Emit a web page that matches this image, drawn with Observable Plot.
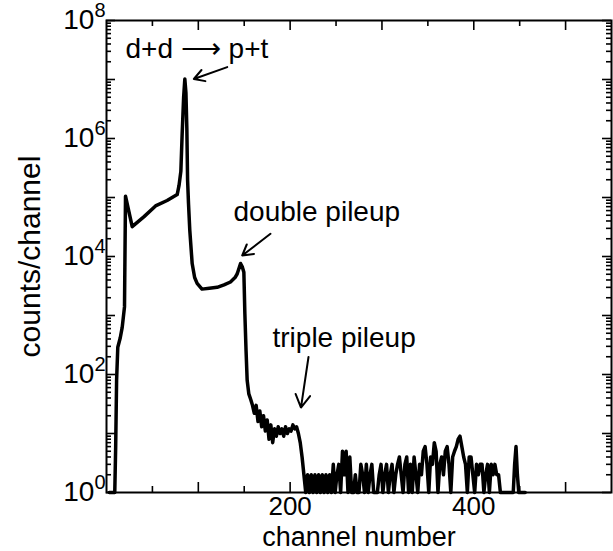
<!DOCTYPE html>
<html><head><meta charset="utf-8">
<script src="https://cdn.jsdelivr.net/npm/d3@7"></script>
<script src="https://cdn.jsdelivr.net/npm/@observablehq/plot@0.6"></script>
<style>body{margin:0;background:#fff;} svg{display:block}</style>
</head><body><div id="chart"></div>
<script>
// Peak region (channel, counts/channel)
const peakChannels = [3, 9, 10, 11, 12.3, 15, 17.1, 19.6, 20.7, 28, 40.6, 53.4, 66, 77, 79, 81, 82.4, 84, 85.3, 86.5, 87.5, 88.3, 89.3, 90.7, 93.3, 96, 98.7, 104, 112, 120.5, 128, 135, 140, 142.4, 146, 148, 149.6, 150.7, 152, 153.2];
const peakCounts = [1, 1, 6, 80, 290, 420, 630, 1400, 105000, 32000, 47000, 72000, 89000, 112000, 160000, 280000, 1200000, 5000000, 10200000, 6000000, 1500000, 200000, 80000, 28000, 7600, 4400, 3500, 2800, 2900, 3000, 3300, 3700, 4400, 5100, 7600, 6600, 5400, 1070, 250, 80];
// Triple pileup shoulder, channels 155..217 step 2
const tripleChannels = d3.range(155, 218, 2);
const tripleCounts = [47,38,30,22,30,16,24,13,20,11,17,8,14,7,12,9,13,10,12,9,13,10,12,11,14,12,13,10,7,4,2,1];
// Noise tail, channels 219..431 step 2
const tailChannels = d3.range(219, 432, 2);
const tailCounts = [2,1,2,1,2,1,2,1,2,1, 2,1,2,1,3,1,2,3,1,5, 2,5,1,4,1,1,2,1,1,3, 2,1,3,1,2,3,1,1,1,2,
  3,1,2,3,1,2,3,1,2,3, 4,2,1,3,4,1,3,1,4,2, 1,3,2,5,6,3,1,4,3,7, 5,1,3,4,2,5,6,3,1,4,
  5,6,8,9,6,4,3,1,4,4, 2,1,3,2,3,3,1,2,3,1, 3,2,3,2,2,1,1];
// Isolated spike near the end
const endChannels = [443, 444.5, 446, 447.5, 449, 456];
const endCounts = [1, 3, 6, 2, 1, 1];

const xTickLabels = [200, 400];
const xTicks = [50, 100, 150, 200, 250, 300, 350, 400, 450, 500];
const yTickLabels = [1, 1e2, 1e4, 1e6, 1e8];
const yDecades = [1, 1e1, 1e2, 1e3, 1e4, 1e5, 1e6, 1e7, 1e8];

const annoText = ["d+d \u27F6 p+t", "double pileup", "triple pileup"];
const annoChannel = [20.7, 138.3, 180.8];
const annoCounts = [2.29e7, 40700, 298];
const arrowFromChannel = [131.5, 178.6, 220];
const arrowFromCounts = [1.62e7, 2.43e4, 198];
const arrowToChannel = [95.1, 147.8, 211.8];
const arrowToCounts = [1.02e7, 1.04e4, 27.5];

const channels = [...peakChannels, ...tripleChannels, ...tailChannels, ...endChannels];
const counts = [...peakCounts, ...tripleCounts, ...tailCounts, ...endCounts];
const spectrum = channels.map((c, i) => ({channel: c, counts: counts[i]}));

const yMinor = [];
for (let d = 0; d < 8; d++) for (let m = 2; m <= 9; m++) yMinor.push(m * 10 ** d);
const xMajor = xTicks.filter(t => t % 100 === 0);
const xMinor = xTicks.filter(t => t % 100 !== 0);

const W = 613, H = 551, ML = 106, MR = 2, MT = 20, MB = 59;
const PW = W - ML - MR, PH = H - MT - MB;
const X0 = 0, X1 = 550, YD = 8;
// tick lengths in pixels converted to data units of each scale
const chOf = px => px * (X1 - X0) / PW;
const decOf = px => px * YD / PH;
const idx = d3.range(annoText.length);
const tk = {stroke: "black", strokeWidth: 1.6};

const chart = Plot.plot({
  width: W, height: H,
  marginLeft: ML, marginRight: MR, marginTop: MT, marginBottom: MB,
  style: {fontFamily: "'Liberation Sans', Arial, sans-serif", background: "white", color: "black"},
  x: {domain: [X0, X1]},
  y: {type: "log", domain: [1, 1e8]},
  marks: [
    Plot.ruleY(yDecades, {y: d => d, x1: X0, x2: X0 + chOf(9), ...tk}),
    Plot.ruleY(yMinor, {y: d => d, x1: X0, x2: X0 + chOf(5), ...tk}),
    Plot.ruleY(yDecades, {y: d => d, x1: X1 - chOf(9), x2: X1, ...tk}),
    Plot.ruleY(yMinor, {y: d => d, x1: X1 - chOf(5), x2: X1, ...tk}),
    Plot.ruleX(xMajor, {x: d => d, y1: 1, y2: 10 ** decOf(10), ...tk}),
    Plot.ruleX(xMinor, {x: d => d, y1: 1, y2: 10 ** decOf(6), ...tk}),
    Plot.ruleX(xMajor, {x: d => d, y1: 10 ** (YD - decOf(10)), y2: 1e8, ...tk}),
    Plot.ruleX(xMinor, {x: d => d, y1: 10 ** (YD - decOf(6)), y2: 1e8, ...tk}),
    Plot.line(spectrum, {x: "channel", y: "counts", stroke: "black", strokeWidth: 3.5, strokeLinejoin: "round", strokeLinecap: "round"}),
    Plot.frame({stroke: "black", strokeWidth: 2}),
    Plot.axisX(xTickLabels, {tickSize: 0, tickPadding: 4, fontSize: 26, label: null}),
    Plot.axisY(yTickLabels, {tickSize: 0, tickPadding: 1, fontSize: 28, label: null,
      tickFormat: d => "10^" + Math.round(Math.log10(d))}),
    Plot.text(["channel number"], {text: d => d, frameAnchor: "bottom", textAnchor: "middle", lineAnchor: "bottom", dy: 53, fontSize: 27}),
    Plot.text(["counts/channel"], {text: d => d, frameAnchor: "left", textAnchor: "middle", rotate: -90, dx: -76, fontSize: 30}),
    Plot.text(idx, {x: i => annoChannel[i], y: i => annoCounts[i], text: i => annoText[i],
      textAnchor: "start", lineAnchor: "bottom", fontSize: 28}),
    Plot.arrow(idx, {x1: i => arrowFromChannel[i], y1: i => arrowFromCounts[i],
      x2: i => arrowToChannel[i], y2: i => arrowToCounts[i], stroke: "black", strokeWidth: 2, headLength: 11})
  ]
});

// superscript exponents on the y tick labels
chart.querySelectorAll("text").forEach(t => {
  const m = /^10\^(\d+)$/.exec(t.textContent);
  if (!m) return;
  t.textContent = "10";
  const ts = document.createElementNS("http://www.w3.org/2000/svg", "tspan");
  ts.setAttribute("dy", "-12");
  ts.setAttribute("font-size", "20");
  ts.textContent = m[1];
  t.appendChild(ts);
});
document.getElementById("chart").appendChild(chart);
</script>
</body></html>
